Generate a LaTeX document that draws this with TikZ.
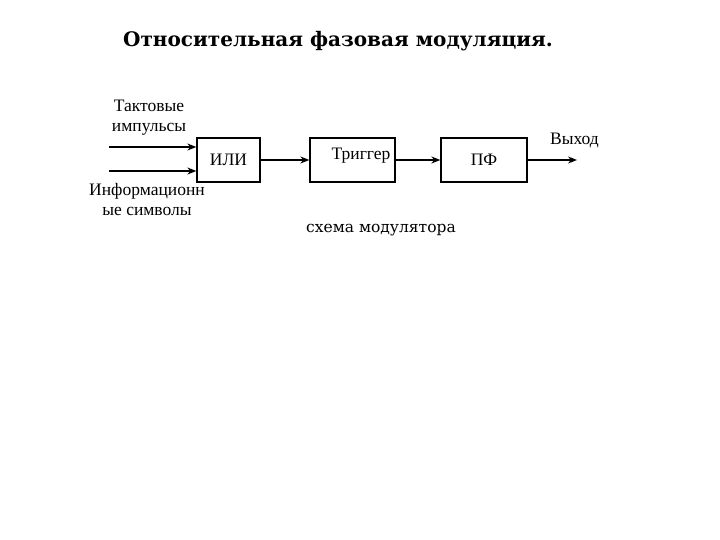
\documentclass[tikz,border=0pt]{standalone}
\usepackage{fontspec}
\setmainfont{Liberation Serif}
\newfontfamily\podpisfont{DejaVu Serif}
\usetikzlibrary{calc, positioning, arrows.meta}

\tikzset{
	blok/.style = {draw, line width = 1.3pt, inner sep = 0pt, minimum height = 44, font = \fontsize{17.5}{21}\selectfont},
	podpis/.style = {align = center, inner sep = 0pt, font = \fontsize{17.5}{20}\selectfont},
	strelka/.style = {-{Stealth[length = 9pt, width = 7pt]}, line width = 1.3pt},
}

\begin{document}
\begin{tikzpicture}[x = 1pt, y = -1pt]
	\useasboundingbox (0,0) rectangle (720,540);

	% zagolovok
	\node[inner sep = 0pt, font = \podpisfont\fontsize{20}{24}\bfseries] (zag) at (338,41) {Относительная фазовая модуляция.};

	% bloki
	\node[blok, minimum width = 63] (ili) at (228.5,160) {ИЛИ};
	\node[blok, minimum width = 85] (trig) at (352.5,160) {};
	\node[inner sep = 0pt, font = \fontsize{17.5}{21}\selectfont] (trigtxt) at (361,156) {Триггер};
	\node[blok, minimum width = 86] (pf) at (484,160) {ПФ};

	% vkhody
	\coordinate (taktin) at (109,147);
	\coordinate (infoin) at (109,171);
	\coordinate (vykhod) at (577,160);

	\node[podpis] (takt) at (149,118) {Тактовые\\импульсы};
	\node[podpis] (info) at (147,199.5) {Информационн\\ые символы};
	\node[podpis, anchor = west] (vykh) at (550,140) {Выход};

	\begin{scope}[strelka]
		\draw (taktin) -- (taktin -| ili.west);
		\draw (infoin) -- (infoin -| ili.west);
		\draw (ili.east) -- (trig.west);
		\draw (trig.east) -- (pf.west);
		\draw (pf.east) -- (vykhod);
	\end{scope}

	% podpis skhemy
	\node[inner sep = 0pt, font = \podpisfont\fontsize{15.5}{18}\selectfont] (skhema) at (381,230) {схема модулятора};
\end{tikzpicture}
\end{document}
